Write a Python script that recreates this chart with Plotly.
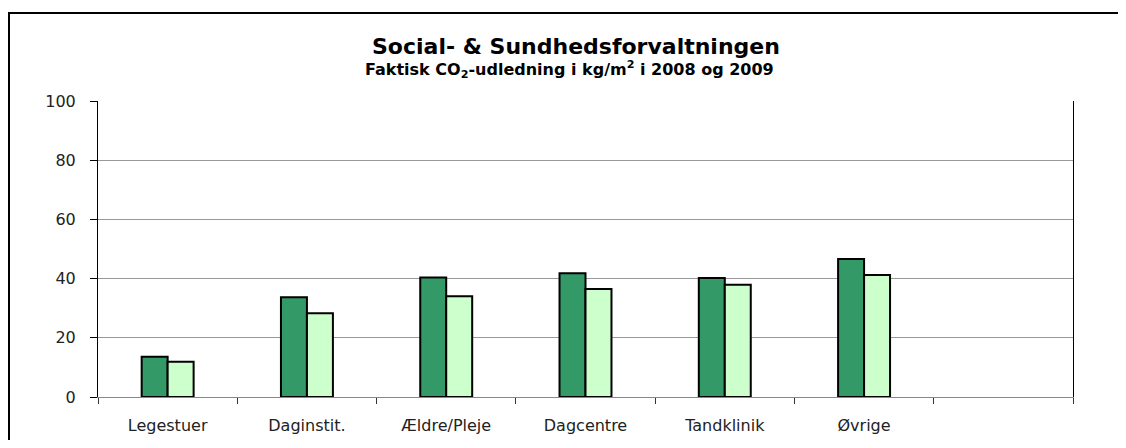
import plotly.graph_objects as go

categories = ["Legestuer", "Daginstit.", "Ældre/Pleje", "Dagcentre", "Tandklinik", "Øvrige"]
slots = categories + [" "]
values_2008 = [13.6, 33.7, 40.4, 41.8, 40.2, 46.6]
values_2009 = [11.9, 28.3, 34.0, 36.5, 37.9, 41.2]
y_ticks = [0, 20, 40, 60, 80, 100]

# page body has an 8px margin; work in screen pixels
OFF = 8
SW, SH = 1126, 448
W, H = SW - OFF, SH - 2 * OFF
plot_l, plot_r, plot_t, plot_b = 98, 1073, 101, 397
ml, mr, mt = plot_l - OFF, SW - plot_r, plot_t - OFF
mb = H - (plot_b - OFF)
pw, ph = W - ml - mr, H - mt - mb

def px_x(x):
    return (x - OFF - ml) / pw

def px_y(y):
    return (plot_b - y) / ph

fig = go.Figure()
fig.add_trace(go.Bar(x=categories, y=values_2008, name="2008",
                     marker=dict(color="#339966", line=dict(color="black", width=2))))
fig.add_trace(go.Bar(x=categories, y=values_2009, name="2009",
                     marker=dict(color="#CCFFCC", line=dict(color="black", width=2))))

font = "'DejaVu Sans', Verdana, sans-serif"

fig.update_layout(
    width=W, height=H,
    margin=dict(l=ml, r=mr, t=mt, b=mb, pad=0, autoexpand=False),
    paper_bgcolor="white", plot_bgcolor="white",
    barmode="group", bargap=0.627, bargroupgap=0,
    showlegend=False,
    font=dict(family=font, size=16, color="#222"),
    xaxis=dict(type="category", categoryorder="array", categoryarray=slots,
               range=[-0.5, len(slots) - 0.5], automargin=False,
               tickson="boundaries", ticks="outside", ticklen=6, tickcolor="#333",
               showline=True, linecolor="#888", linewidth=1,
               showgrid=False, ticklabelstandoff=14,
               tickfont=dict(family=font, size=16, color="#222")),
    yaxis=dict(range=[0, 100], tickvals=y_ticks, ticks="outside", ticklen=7,
               automargin=False,
               tickcolor="black", showline=True, linecolor="black", linewidth=1,
               mirror=True, showgrid=True, gridcolor="#999", gridwidth=1,
               zeroline=False, ticklabelstandoff=11,
               tickfont=dict(family=font, size=16, color="#222")),
    annotations=[
        dict(text="<b>Social- & Sundhedsforvaltningen</b>", xref="paper", yref="paper",
             x=px_x(576), y=px_y(47), xanchor="center", yanchor="middle",
             showarrow=False, font=dict(family=font, size=22, color="black")),
        dict(text="<b>Faktisk CO<sub>2</sub>-udledning i kg/m<sup>2</sup> i 2008 og 2009</b>",
             xref="paper", yref="paper",
             x=px_x(569), y=px_y(70), xanchor="center", yanchor="middle",
             showarrow=False, font=dict(family=font, size=16, color="black")),
    ],
    shapes=[
        dict(type="line", xref="paper", yref="paper",
             x0=px_x(OFF), x1=px_x(SW + 20), y0=px_y(13), y1=px_y(13),
             line=dict(color="black", width=2), layer="below"),
        dict(type="line", xref="paper", yref="paper",
             x0=px_x(OFF + 1), x1=px_x(OFF + 1), y0=px_y(13), y1=px_y(SH + 20),
             line=dict(color="black", width=2), layer="below"),
    ],
)

fig.write_html("out.html")
